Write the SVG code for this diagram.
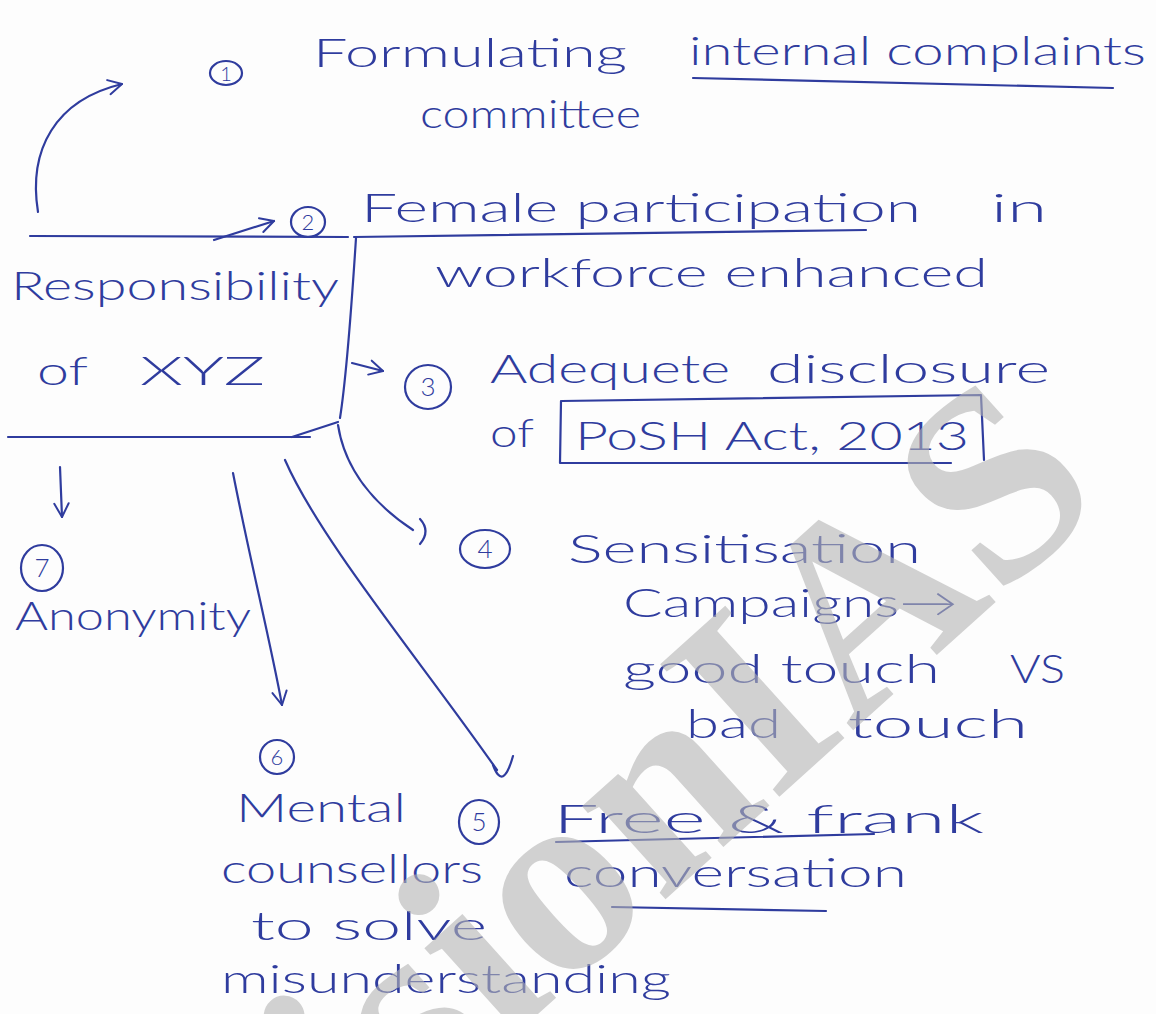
<svg xmlns="http://www.w3.org/2000/svg" width="1156" height="1014" viewBox="0 0 1156 1014">
<defs>
<style>
.ink{fill:#2f3c9e;font-family:Lato,"Open Sans","Liberation Sans",sans-serif;font-weight:300;font-size:40px}
.num{fill:#2f3c9e;font-family:Lato,"Open Sans","Liberation Sans",sans-serif;font-weight:300;font-size:26px;text-anchor:middle}
.ln{fill:none;stroke:#2f3c9e;stroke-width:2.2;stroke-linecap:round;stroke-linejoin:round}
.wm{fill:#b4b4b4;opacity:0.6;font-family:"Liberation Serif",serif;font-weight:bold;font-size:272px}
</style>
<marker id="arr" viewBox="0 0 20 20" refX="18" refY="10" markerWidth="18" markerHeight="18" markerUnits="userSpaceOnUse" orient="auto">
<path d="M3,2 L18,10 L3,18" fill="none" stroke="#2f3c9e" stroke-width="2.2" stroke-linecap="round" stroke-linejoin="round"/>
</marker>
</defs>
<rect width="1156" height="1014" fill="#fdfdfd"/>

<g id="node-xyz">
<path class="ln" d="M30,236 L348,237"/>
<path class="ln" d="M356,238 C352,300 346,380 340,418"/>
<path class="ln" d="M8,437 L310,437"/>
<text class="ink" x="11" y="300" textLength="328" lengthAdjust="spacingAndGlyphs">Responsibility</text>
<text class="ink" x="37" y="385" textLength="51" lengthAdjust="spacingAndGlyphs">of</text>
<text class="ink" x="140" y="385" textLength="125" lengthAdjust="spacingAndGlyphs">XYZ</text>
</g>

<g id="node-1">
<ellipse class="ln" cx="226" cy="73" rx="16" ry="12"/>
<text class="num" x="226" y="81" style="font-size:20px">1</text>
<text class="ink" x="313" y="67" textLength="314" lengthAdjust="spacingAndGlyphs">Formulating</text>
<text class="ink" x="689" y="65" textLength="457" lengthAdjust="spacingAndGlyphs">internal complaints</text>
<path class="ln" d="M693,78 L1113,88"/>
<text class="ink" x="420" y="128" textLength="221" lengthAdjust="spacingAndGlyphs">committee</text>
</g>

<g id="node-2">
<ellipse class="ln" cx="308" cy="222" rx="17" ry="15"/>
<text class="num" x="308" y="230" style="font-size:22px">2</text>
<text class="ink" x="361" y="222" textLength="560" lengthAdjust="spacingAndGlyphs">Female participation</text>
<text class="ink" x="991" y="222" textLength="56" lengthAdjust="spacingAndGlyphs">in</text>
<path class="ln" d="M354,237 L866,230"/>
<text class="ink" x="435" y="287" textLength="553" lengthAdjust="spacingAndGlyphs">workforce enhanced</text>
</g>

<g id="node-3">
<ellipse class="ln" cx="428" cy="387" rx="23" ry="22"/>
<text class="num" x="428" y="396">3</text>
<text class="ink" x="490" y="383" textLength="240" lengthAdjust="spacingAndGlyphs">Adequete</text>
<text class="ink" x="767" y="383" textLength="283" lengthAdjust="spacingAndGlyphs">disclosure</text>
<text class="ink" x="490" y="447" textLength="44" lengthAdjust="spacingAndGlyphs">of</text>
<path class="ln" d="M562,401 L981,395 L984,460 M951,463 L560,463 L561,401"/>
<text class="ink" x="575" y="450" textLength="394" lengthAdjust="spacingAndGlyphs">PoSH Act, 2013</text>
</g>

<g id="node-4">
<ellipse class="ln" cx="485" cy="549" rx="25" ry="19"/>
<text class="num" x="485" y="558">4</text>
<text class="ink" x="568" y="563" textLength="353" lengthAdjust="spacingAndGlyphs">Sensitisation</text>
<text class="ink" x="623" y="617" textLength="335" lengthAdjust="spacingAndGlyphs">Campaigns→</text>
<text class="ink" x="623" y="683" textLength="317" lengthAdjust="spacingAndGlyphs">good touch</text>
<text class="ink" x="1010" y="683" textLength="55" lengthAdjust="spacingAndGlyphs">VS</text>
<text class="ink" x="686" y="738" textLength="95" lengthAdjust="spacingAndGlyphs">bad</text>
<text class="ink" x="848" y="738" textLength="180" lengthAdjust="spacingAndGlyphs">touch</text>
</g>

<g id="node-5">
<ellipse class="ln" cx="479" cy="822" rx="20" ry="22"/>
<text class="num" x="479" y="831">5</text>
<text class="ink" x="553" y="833" textLength="431" lengthAdjust="spacingAndGlyphs">Free &amp; frank</text>
<path class="ln" d="M556,842 L874,834"/>
<text class="ink" x="564" y="887" textLength="343" lengthAdjust="spacingAndGlyphs">conversation</text>
<path class="ln" d="M612,907 L826,911"/>
</g>

<g id="node-6">
<ellipse class="ln" cx="277" cy="757" rx="17" ry="17"/>
<text class="num" x="277" y="765" style="font-size:22px">6</text>
<text class="ink" x="236" y="822" textLength="170" lengthAdjust="spacingAndGlyphs">Mental</text>
<text class="ink" x="221" y="883" textLength="262" lengthAdjust="spacingAndGlyphs">counsellors</text>
<text class="ink" x="251" y="940" textLength="236" lengthAdjust="spacingAndGlyphs">to solve</text>
<text class="ink" x="221" y="993" textLength="450" lengthAdjust="spacingAndGlyphs">misunderstanding</text>
</g>

<g id="node-7">
<ellipse class="ln" cx="42" cy="568" rx="21" ry="23"/>
<text class="num" x="42" y="577">7</text>
<text class="ink" x="15" y="630" textLength="236" lengthAdjust="spacingAndGlyphs">Anonymity</text>
</g>

<g id="connectors">
<path class="ln" d="M38,212 C28,150 55,100 122,84" marker-end="url(#arr)"/>
<path class="ln" d="M214,240 L274,221" marker-end="url(#arr)"/>
<path class="ln" d="M352,363 L383,371" marker-end="url(#arr)"/>
<path class="ln" d="M338,422 L292,437"/>
<path class="ln" d="M338,425 C345,470 375,505 413,530"/>
<path class="ln" d="M420,519 Q431,531 420,544"/>
<path class="ln" d="M285,460 C320,540 420,660 497,770"/>
<path class="ln" d="M493,765 Q503,792 513,756"/>
<path class="ln" d="M233,473 C250,560 270,640 282,705" marker-end="url(#arr)"/>
<path class="ln" d="M60,467 L62,517" marker-end="url(#arr)"/>
</g>

<text class="wm" x="0" y="0" transform="translate(267,1258) rotate(-42)">visionIAS</text>
</svg>
